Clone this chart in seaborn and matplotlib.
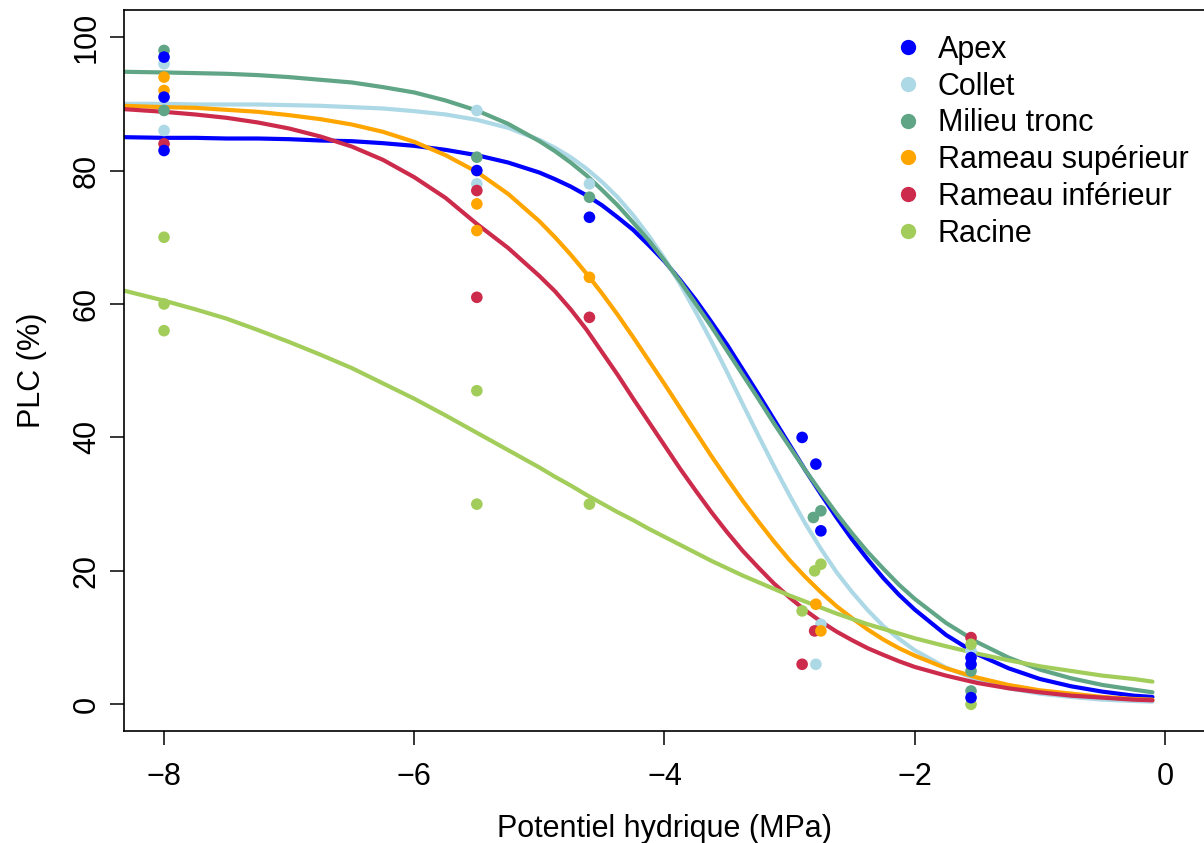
import numpy as np
import pandas as pd
import matplotlib
matplotlib.use('Agg')
import matplotlib.pyplot as plt
from matplotlib.lines import Line2D
import seaborn as sns

sns.set_style('ticks')
plt.rcParams['font.family'] = ['Liberation Sans', 'DejaVu Sans']
plt.rcParams.update({'text.color': 'black', 'axes.labelcolor': 'black',
                     'xtick.color': 'black', 'ytick.color': 'black'})

groups = ['Apex', 'Collet', 'Milieu tronc', 'Rameau supérieur', 'Rameau inférieur', 'Racine']
colors = ['#0000FF', '#ADD8E6', '#5FA586', '#FFA500', '#CD2B4B', '#A2CD5A']

# measured PLC points (MPa, %)
apex_x = [-8, -8, -8, -5.5, -4.6, -2.9, -2.79, -2.75, -1.55, -1.55, -1.55]
apex_y = [97, 91, 83, 80, 73, 40, 36, 26, 7, 6, 1]
collet_x = [-8, -8, -5.5, -5.5, -4.6, -2.75, -2.79, -1.55]
collet_y = [96, 86, 89, 78, 78, 12, 6, 8]
milieu_x = [-8, -8, -5.5, -4.6, -2.81, -2.75, -1.55, -1.55]
milieu_y = [98, 89, 82, 76, 28, 29, 5, 2]
sup_x = [-8, -8, -5.5, -5.5, -4.6, -2.79, -2.75]
sup_y = [94, 92, 75, 71, 64, 15, 11]
inf_x = [-8, -5.5, -5.5, -4.6, -2.8, -2.9, -1.55]
inf_y = [84, 77, 61, 58, 11, 6, 10]
racine_x = [-8, -8, -8, -5.5, -5.5, -4.6, -2.75, -2.8, -2.9, -1.55, -1.55]
racine_y = [70, 60, 56, 47, 30, 30, 21, 20, 14, 9, 0]

# fitted vulnerability curves (denser where they bend most)
curve_x = [-8.32, -8.0, -7.75, -7.5, -7.25, -7.0, -6.75, -6.5, -6.25, -6.0, -5.75, -5.5, -5.25,
           -5.0, -4.875, -4.75, -4.625, -4.5, -4.375, -4.25, -4.125, -4.0, -3.875, -3.75,
           -3.625, -3.5, -3.375, -3.25, -3.125, -3.0, -2.875, -2.75, -2.625, -2.5, -2.375,
           -2.25, -2.125, -2.0,
           -1.75, -1.5, -1.25, -1.0, -0.75, -0.5, -0.25, -0.1]
apex_fit = [85.0, 84.9, 84.9, 84.8, 84.8, 84.7, 84.5, 84.4, 84.1, 83.7, 83.1, 82.3, 81.2,
            79.7, 78.7, 77.6, 76.3, 74.8, 73.0, 71.1, 68.8, 66.4, 63.6, 60.6, 57.3, 53.9,
            50.2, 46.5, 42.7, 38.9, 35.1, 31.5, 28.0, 24.7, 21.7, 18.9, 16.4, 14.2,
            10.4, 7.5, 5.4, 3.8, 2.7, 1.9, 1.3, 1.1]
collet_fit = [90.0, 90.0, 89.9, 89.9, 89.9, 89.8, 89.7, 89.5, 89.3, 88.9, 88.4, 87.6, 86.4,
              84.6, 83.4, 82.0, 80.3, 78.3, 76.0, 73.3, 70.2, 66.8, 63.0, 58.8, 54.4, 49.8,
              45.0, 40.3, 35.7, 31.3, 27.1, 23.3, 19.8, 16.8, 14.1, 11.7, 9.8, 8.1,
              5.5, 3.7, 2.4, 1.6, 1.1, 0.7, 0.5, 0.4]
milieu_fit = [94.8, 94.7, 94.6, 94.5, 94.3, 94.0, 93.6, 93.2, 92.5, 91.7, 90.5, 89.0, 87.0,
              84.4, 82.9, 81.2, 79.3, 77.1, 74.8, 72.2, 69.5, 66.5, 63.4, 60.0, 56.6, 53.0,
              49.4, 45.8, 42.1, 38.6, 35.1, 31.8, 28.6, 25.6, 22.8, 20.3, 17.9, 15.8,
              12.2, 9.3, 7.0, 5.2, 3.9, 2.9, 2.2, 1.8]
sup_fit = [89.7, 89.5, 89.4, 89.1, 88.8, 88.3, 87.7, 86.9, 85.8, 84.3, 82.3, 79.8, 76.5,
           72.4, 70.0, 67.4, 64.6, 61.6, 58.4, 55.0, 51.5, 48.0, 44.4, 40.8, 37.2, 33.8,
           30.5, 27.4, 24.4, 21.6, 19.1, 16.8, 14.7, 12.9, 11.2, 9.7, 8.4, 7.3,
           5.4, 4.0, 2.9, 2.1, 1.6, 1.1, 0.8, 0.7]
inf_fit = [89.2, 88.8, 88.4, 87.9, 87.2, 86.3, 85.1, 83.6, 81.6, 79.0, 75.9, 72.0, 68.4,
           64.2, 61.9, 59.2, 56.2, 52.8, 49.4, 45.8, 42.3, 38.8, 35.3, 32.0, 28.8, 25.8,
           23.0, 20.5, 18.1, 16.0, 14.1, 12.4, 10.9, 9.6, 8.4, 7.4, 6.45, 5.6,
           4.3, 3.2, 2.4, 1.8, 1.3, 1.0, 0.7, 0.6]
racine_fit = [62.0, 60.5, 59.2, 57.8, 56.1, 54.3, 52.4, 50.4, 48.1, 45.8, 43.3, 40.7, 38.1,
              35.5, 34.1, 32.8, 31.4, 30.1, 28.8, 27.6, 26.3, 25.1, 23.9, 22.7, 21.5, 20.4,
              19.3, 18.3, 17.3, 16.3, 15.4, 14.5, 13.6, 12.8, 12.0, 11.3, 10.6, 9.9,
              8.7, 7.6, 6.6, 5.7, 5.0, 4.3, 3.8, 3.4]

pts_x = dict(zip(groups, [apex_x, collet_x, milieu_x, sup_x, inf_x, racine_x]))
pts_y = dict(zip(groups, [apex_y, collet_y, milieu_y, sup_y, inf_y, racine_y]))
fits = [apex_fit, collet_fit, milieu_fit, sup_fit, inf_fit, racine_fit]
pal = dict(zip(groups, colors))

# points are stacked so that Apex ends up on top, as in the original
draw_order = ['Milieu tronc', 'Collet', 'Rameau inférieur', 'Racine', 'Rameau supérieur', 'Apex']
pts = pd.concat([pd.DataFrame({'psi': pts_x[g], 'plc': pts_y[g], 'organe': g})
                 for g in draw_order], ignore_index=True)
crv = pd.concat([pd.DataFrame({'psi': curve_x, 'plc': f, 'organe': g})
                 for g, f in zip(groups, fits)], ignore_index=True)

fig = plt.figure(figsize=(12.04, 8.43), dpi=100)
ax = fig.add_axes([124 / 1204, 1 - 731 / 843, (1205 - 124) / 1204, (731 - 10.4) / 843])

sns.lineplot(data=crv, x='psi', y='plc', hue='organe', palette=pal, estimator=None,
             sort=False, linewidth=3, legend=False, ax=ax)
for ln in ax.get_lines():
    ln.set_solid_joinstyle('round')
sns.scatterplot(data=pts, x='psi', y='plc', hue='organe', palette=pal, s=70,
                linewidth=0, legend=False, ax=ax, zorder=3)

ax.set_xlim(-8.32, 0.32)
ax.set_ylim(-4, 104)
ax.set_xticks([-8, -6, -4, -2, 0])
ax.set_yticks([0, 20, 40, 60, 80, 100])
ax.tick_params(axis='both', labelsize=22, length=10, width=1.1, color='black',
               labelcolor='black')
ax.tick_params(axis='x', pad=12)
ax.tick_params(axis='y', pad=6)
for lab in ax.get_yticklabels():
    lab.set_rotation(90)
    lab.set_va('center')
for sp in ax.spines.values():
    sp.set_visible(True)
    sp.set_linewidth(1.2)
    sp.set_color('black')
ax.set_xlabel('Potentiel hydrique (MPa)', fontsize=22, labelpad=16)
ax.set_ylabel('PLC (%)', fontsize=22, labelpad=18)

handles = [Line2D([], [], marker='o', ls='', color=c, markersize=10) for c in colors]
ax.legend(handles, groups, loc='upper left', bbox_to_anchor=(893 / 1204, 1 - 35 / 843),
          bbox_transform=fig.transFigure, frameon=False, fontsize=22, borderpad=0,
          borderaxespad=0, handlelength=1.0, handletextpad=0.46, labelspacing=0.22)

fig.savefig('out.png', dpi=100)
